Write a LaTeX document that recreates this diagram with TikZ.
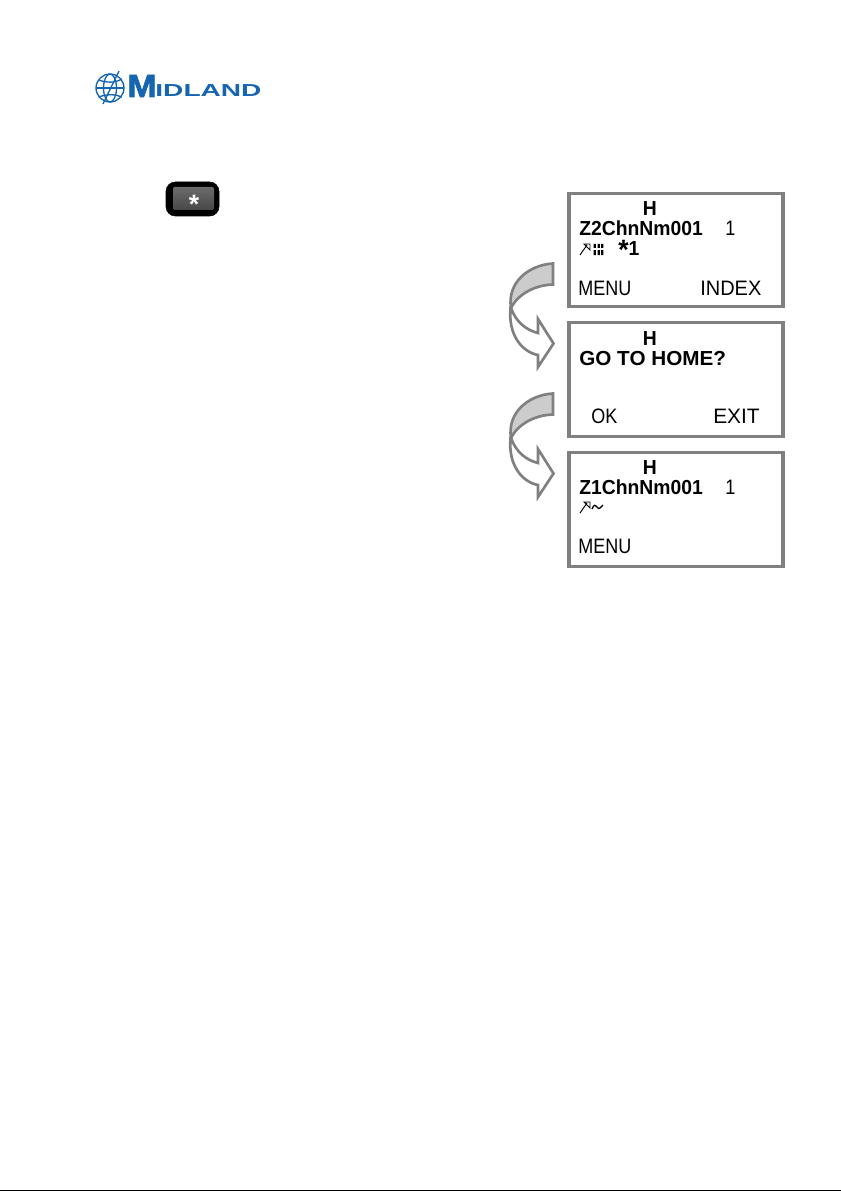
\documentclass[tikz,border=0pt]{standalone}
\usepackage{fontspec}
\setmainfont{Liberation Sans}
\newfontfamily\logofont[FakeBold=2]{Liberation Sans Bold}
\definecolor{framegray}{HTML}{808080}
\definecolor{arrowgray}{HTML}{CCCCCC}
\definecolor{logoblue}{HTML}{1565B0}
\tikzset{
  screenbox/.style={draw=framegray,line width=2.4pt,fill=white,minimum width=160.5pt,minimum height=85pt,inner sep=0pt},
  lcdbold/.style={anchor=base west,inner sep=0pt,font=\fontsize{14.5}{14.5}\selectfont\bfseries,yscale=1.05},
  lcdthin/.style={anchor=base west,inner sep=0pt,font=\fontsize{13.5}{13.5}\selectfont,yscale=1.16},
  logotext/.style={anchor=base west,inner sep=0pt,text=logoblue,font=\bfseries},
  curvearrow/.style={draw=framegray,line width=2pt}
}
\begin{document}
\begin{tikzpicture}[x=0.75pt,y=-0.75pt,line cap=butt,line join=miter]
  \useasboundingbox (0,0) rectangle (841,1191);

  % Logo: globe and name.
  \begin{scope}[draw=logoblue,line width=1pt]
    \draw (110,88) circle (14);
    \draw (110,88) ellipse (6.5 and 14);
    \draw (96,88) -- (124,88);
    \draw (98.5,80) .. controls (107,83) and (115,83) .. (122,79);
    \draw (98.5,97) .. controls (107,94) and (115,94) .. (122,97);
    \draw (103,104) -- (119,71);
  \end{scope}
  \node[logotext,font=\fontsize{24}{24}\logofont,xscale=1.1] (logoM) at (127,97) {M};
  \node[logotext,font=\fontsize{13}{13}\selectfont\bfseries,xscale=1.62] (logoName) at (155,97) {IDLAND};

  % Star key.
  \draw[fill=black,rounded corners=7pt] (166,182) rectangle (219,216);
  \shade[top color=black!58,bottom color=black!72,rounded corners=1pt] (173,187) rectangle (214,210);
  \node[text=white,inner sep=0pt,font=\fontsize{20}{20}\selectfont\bfseries] (starKey) at (194,204) {*};

  % Three display screens.
  \node[screenbox] (scrZone) at (676,250) {};
  \node[screenbox] (scrHome) at (676,379.5) {};
  \node[screenbox] (scrDone) at (676,509.5) {};

  % First screen.
  \node[lcdbold] (zoneH) at (642.5,216) {H};
  \node[lcdbold] (zoneName) at (579,235) {Z2ChnNm001};
  \node[lcdthin] (zoneNum) at (725,235) {1};
  \node[lcdbold] (zoneStar) at (618,256) {\raisebox{-2.6pt}{\fontsize{20}{20}\selectfont *}1};
  \node[lcdthin] (zoneMenu) at (578,295) {MENU};
  \node[lcdthin,xscale=1.11] (zoneIndex) at (700,295) {INDEX};
  \draw[line width=0.7pt] (580,255) -- (587,245) (584,244) -- (590,244) -- (590,250) -- cycle;
  \foreach \i in {593.5,597.5,601}
    \fill (\i,244) rectangle ++(2.4,4) (\i,250) rectangle ++(2.4,5);

  % Second screen.
  \node[lcdbold] (homeH) at (642.5,345) {H};
  \node[lcdbold,xscale=1.07] (homeText) at (579,365) {GO TO HOME?};
  \node[lcdthin] (homeOk) at (591,423) {OK};
  \node[lcdthin,xscale=1.16] (homeExit) at (713,423) {EXIT};

  % Third screen.
  \node[lcdbold] (doneH) at (642.5,474) {H};
  \node[lcdbold] (doneName) at (579,494) {Z1ChnNm001};
  \node[lcdthin] (doneNum) at (725,494) {1};
  \node[lcdthin] (doneMenu) at (578,553) {MENU};
  \draw[line width=0.7pt] (580,513) -- (587,503) (584,502) -- (590,502) -- (590,508) -- cycle;
  \draw[line width=1pt] (592,509) .. controls (594,504) and (595,505) .. (597,507) .. controls (599,510) and (600,508) .. (603,505);

  % Curved arrows between the screens.
  \foreach \dy in {0,130}{
    \begin{scope}[yshift=-0.75pt*\dy]
      \draw[curvearrow,fill=white] (511,308) .. controls (516,322) and (526,330) .. (538,333)
        -- (538,319) -- (553.5,343.5) -- (538,367) -- (538,355)
        .. controls (522,352) and (508,335) .. (510.5,308) -- cycle;
      \draw[curvearrow,fill=arrowgray] (553,263.5) -- (553,284.5)
        .. controls (535,285) and (518,294) .. (511,308)
        .. controls (507,283) and (528,265) .. (553,263.5) -- cycle;
    \end{scope}
  }

  % Page edge.
  \draw[line width=0.9pt] (0,1190.3) -- (841,1190.3);
\end{tikzpicture}
\end{document}
